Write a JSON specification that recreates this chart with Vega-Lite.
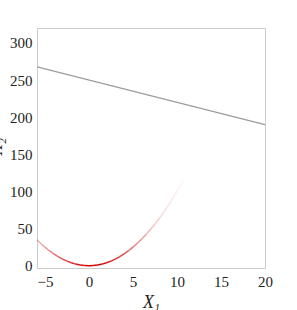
{
  "$schema": "https://vega.github.io/schema/vega-lite/v6.json",
  "autosize": "none",
  "width": 228,
  "height": 240,
  "padding": {"left": 37, "top": 28, "right": 32, "bottom": 42},
  "background": "white",
  "config": {
    "view": {"stroke": "#cccccc", "strokeWidth": 1}
  },
  "datasets": {
    "line": [
      {"x": -5.9, "y": 267.7},
      {"x": 20, "y": 190}
    ],
    "curve": [
      {"x": -6, "y": 36, "xe": -5.5, "ye": 30.25, "a": 0.30},
      {"x": -5.5, "y": 30.25, "xe": -5, "ye": 25, "a": 0.36},
      {"x": -5, "y": 25, "xe": -4.5, "ye": 20.25, "a": 0.42},
      {"x": -4.5, "y": 20.25, "xe": -4, "ye": 16, "a": 0.49},
      {"x": -4, "y": 16, "xe": -3.5, "ye": 12.25, "a": 0.57},
      {"x": -3.5, "y": 12.25, "xe": -3, "ye": 9, "a": 0.64},
      {"x": -3, "y": 9, "xe": -2.5, "ye": 6.25, "a": 0.72},
      {"x": -2.5, "y": 6.25, "xe": -2, "ye": 4, "a": 0.79},
      {"x": -2, "y": 4, "xe": -1.5, "ye": 2.25, "a": 0.85},
      {"x": -1.5, "y": 2.25, "xe": -1, "ye": 1, "a": 0.91},
      {"x": -1, "y": 1, "xe": -0.5, "ye": 0.25, "a": 0.95},
      {"x": -0.5, "y": 0.25, "xe": 0, "ye": 0, "a": 0.98},
      {"x": 0, "y": 0, "xe": 0.5, "ye": 0.25, "a": 1.0},
      {"x": 0.5, "y": 0.25, "xe": 1, "ye": 1, "a": 1.0},
      {"x": 1, "y": 1, "xe": 1.5, "ye": 2.25, "a": 0.98},
      {"x": 1.5, "y": 2.25, "xe": 2, "ye": 4, "a": 0.95},
      {"x": 2, "y": 4, "xe": 2.5, "ye": 6.25, "a": 0.91},
      {"x": 2.5, "y": 6.25, "xe": 3, "ye": 9, "a": 0.85},
      {"x": 3, "y": 9, "xe": 3.5, "ye": 12.25, "a": 0.79},
      {"x": 3.5, "y": 12.25, "xe": 4, "ye": 16, "a": 0.72},
      {"x": 4, "y": 16, "xe": 4.5, "ye": 20.25, "a": 0.64},
      {"x": 4.5, "y": 20.25, "xe": 5, "ye": 25, "a": 0.57},
      {"x": 5, "y": 25, "xe": 5.5, "ye": 30.25, "a": 0.49},
      {"x": 5.5, "y": 30.25, "xe": 6, "ye": 36, "a": 0.42},
      {"x": 6, "y": 36, "xe": 6.5, "ye": 42.25, "a": 0.36},
      {"x": 6.5, "y": 42.25, "xe": 7, "ye": 49, "a": 0.30},
      {"x": 7, "y": 49, "xe": 7.5, "ye": 56.25, "a": 0.24},
      {"x": 7.5, "y": 56.25, "xe": 8, "ye": 64, "a": 0.19},
      {"x": 8, "y": 64, "xe": 8.5, "ye": 72.25, "a": 0.15},
      {"x": 8.5, "y": 72.25, "xe": 9, "ye": 81, "a": 0.12},
      {"x": 9, "y": 81, "xe": 9.5, "ye": 90.25, "a": 0.09},
      {"x": 9.5, "y": 90.25, "xe": 10, "ye": 100, "a": 0.07},
      {"x": 10, "y": 100, "xe": 10.5, "ye": 110.25, "a": 0.05},
      {"x": 10.5, "y": 110.25, "xe": 10.7, "ye": 114.5, "a": 0.04}
    ]
  },
  "encoding": {
    "x": {
      "field": "x", "type": "quantitative",
      "scale": {"domain": [-5.9, 20], "nice": false, "zero": false},
      "axis": {
        "values": [-5, 0, 5, 10, 15, 20], "title": "X₁",
        "labelFont": "Liberation Serif", "labelFontSize": 15, "labelColor": "#222222",
        "labelOverlap": false, "labelFlush": false, "labelPadding": 6,
        "titleFont": "Liberation Serif", "titleFontSize": 18, "titleFontWeight": "normal",
        "titleFontStyle": "italic", "titleColor": "#222222", "titlePadding": 4,
        "domain": false, "ticks": false, "grid": false
      }
    },
    "y": {
      "field": "y", "type": "quantitative",
      "scale": {"domain": [-3, 320], "nice": false, "zero": false},
      "axis": {
        "values": [0, 50, 100, 150, 200, 250, 300], "tickCount": 7, "title": "X₂",
        "labelFont": "Liberation Serif", "labelFontSize": 15, "labelColor": "#222222",
        "labelOverlap": false, "labelFlush": false, "labelPadding": 5,
        "titleFont": "Liberation Serif", "titleFontSize": 18, "titleFontWeight": "normal",
        "titleFontStyle": "italic", "titleColor": "#222222", "titleX": -32, "titleY": 118,
        "domain": false, "ticks": false, "grid": false
      }
    }
  },
  "layer": [
    {
      "data": {"name": "line"},
      "mark": {"type": "line", "color": "#9a9a9a", "strokeWidth": 1.3, "clip": true}
    },
    {
      "data": {"name": "curve"},
      "mark": {"type": "rule", "color": "#d00000", "strokeWidth": 1.5, "clip": true},
      "encoding": {
        "x2": {"field": "xe"},
        "y2": {"field": "ye"},
        "opacity": {"field": "a", "type": "quantitative", "scale": null, "legend": null}
      }
    }
  ]
}
